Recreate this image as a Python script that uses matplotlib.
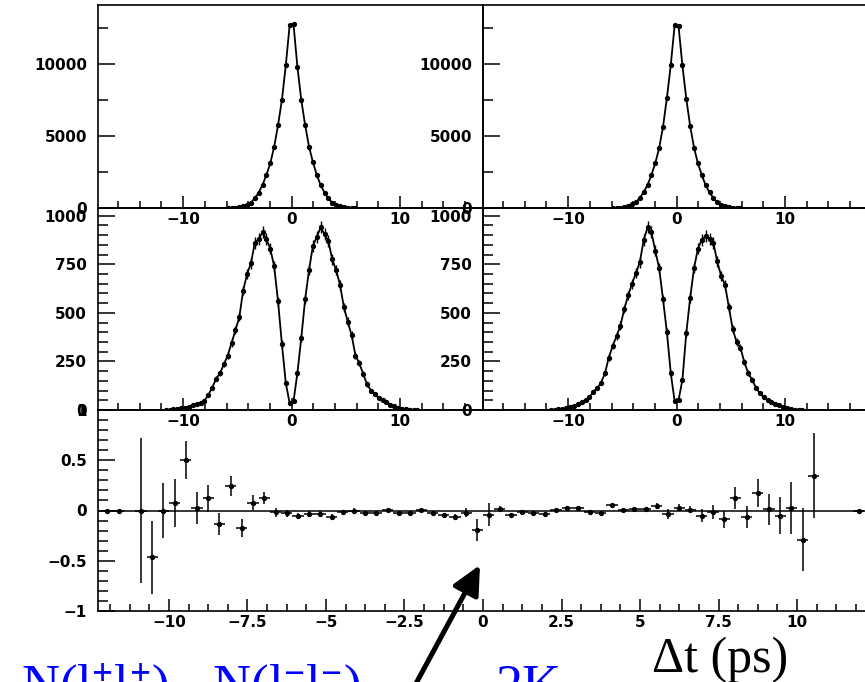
import numpy as np
import matplotlib
matplotlib.use("Agg")
import matplotlib.pyplot as plt
from matplotlib.patches import FancyArrowPatch
from matplotlib.ticker import MultipleLocator, FuncFormatter
from matplotlib.transforms import IdentityTransform

W, H = 865, 682
bin_w = 25 / 70  # ps per bin

# --- Delta t distributions (counts per bin) ---
top_x = (np.arange(-17, 17) + 0.5) * bin_w
top_left = [3, 10, 25, 65, 140, 240, 380, 680, 1070, 1600, 2300, 3100, 4250, 5750, 7500, 9900, 12700,
            12750, 9820, 7500, 5760, 4260, 3200, 2290, 1600, 1065, 670, 370, 230, 140, 60, 22, 8, 2]
top_right = [3, 9, 24, 65, 150, 250, 400, 700, 1100, 1600, 2290, 3120, 4160, 5650, 7640, 9930, 12700,
             12650, 9900, 7600, 5700, 4200, 3100, 2300, 1580, 1080, 690, 390, 240, 140, 60, 24, 9, 3]

mid_x = (np.arange(-33, 33) + 0.5) * bin_w
mid_left = [0, 1, 3, 5, 8, 12, 18, 25, 32, 38, 48, 77, 115, 160, 189, 235, 280, 345, 410, 478,
            615, 700, 755, 860, 880, 915, 880, 830, 740, 560, 340, 140, 35,
            45, 190, 370, 570, 720, 845, 890, 940, 905, 870, 775, 720, 645, 530, 455, 385, 280,
            240, 185, 132, 100, 80, 62, 50, 42, 28, 20, 12, 6, 3, 1, 0, 0]
mid_right = [0, 1, 3, 5, 9, 14, 22, 31, 42, 52, 65, 95, 112, 140, 189, 270, 330, 380, 435, 520,
             590, 650, 705, 760, 875, 940, 915, 820, 730, 570, 400, 190, 45,
             50, 155, 395, 576, 730, 830, 876, 895, 880, 860, 765, 690, 644, 530, 415, 350, 320,
             245, 190, 155, 115, 86, 65, 52, 42, 31, 24, 17, 9, 5, 2, 1, 0]

# --- asymmetry [N(l+l+) - N(l-l-)] / [N(l+l+) + N(l-l-)] ---
nan = np.nan
asym_x = (np.arange(-35, 35) + 0.5) * bin_w
asym = [nan, 0, 0, nan, 0, -0.466, 0, 0.078, 0.50, 0.027, 0.12, -0.13, 0.245, -0.177, 0.078,
        0.12, -0.017, -0.027, -0.058, -0.034, -0.034, -0.06, -0.017, 0.0, -0.02, -0.02, 0.007,
        -0.024, -0.02, 0.003, -0.02, -0.044, -0.06, -0.02, -0.19,
        -0.04, 0.017, -0.04, -0.017, -0.02, -0.034, 0.007, 0.024, 0.027, -0.01, -0.02, 0.05,
        0.007, 0.01, 0.01, 0.04, -0.034, 0.027, 0.007, -0.05, -0.017, -0.085, 0.12, -0.068,
        0.177, 0.01, -0.05, 0.027, -0.29, 0.347, nan, nan, nan, 0, nan]
asym_err = [nan, 0, 0, nan, 0.72, 0.36, 0.27, 0.24, 0.19, 0.16, 0.135, 0.11, 0.10, 0.09, 0.075,
            0.06, 0.045, 0.035, 0.03, 0.025, 0.025, 0.025, 0.02, 0.02, 0.02, 0.02, 0.02,
            0.02, 0.02, 0.02, 0.02, 0.02, 0.025, 0.04, 0.11,
            0.11, 0.03, 0.02, 0.02, 0.02, 0.02, 0.015, 0.015, 0.015, 0.015, 0.015, 0.015,
            0.015, 0.02, 0.02, 0.03, 0.05, 0.035, 0.035, 0.06, 0.07, 0.085, 0.11, 0.11,
            0.14, 0.15, 0.18, 0.26, 0.31, 0.42, nan, nan, nan, 0, nan]

plt.rcParams['font.family'] = 'DejaVu Sans'
plt.rcParams['font.weight'] = 'bold'
plt.rcParams['font.size'] = 11
plt.rcParams['mathtext.fontset'] = 'custom'
plt.rcParams['mathtext.rm'] = 'Liberation Serif'
plt.rcParams['mathtext.it'] = 'Liberation Serif:italic'

fig = plt.figure(figsize=(W / 100, H / 100), dpi=100)


def box(x0, y0, x1, y1):
    # pixel box (from top-left) -> figure axes
    return fig.add_axes([x0 / W, 1 - y1 / H, (x1 - x0) / W, (y1 - y0) / H])


fmt = FuncFormatter(lambda v, p: ('%g' % v).replace('-', '\u2212'))


def style(ax, xmaj, xmin, ymaj, ymin):
    ax.xaxis.set_major_locator(MultipleLocator(xmaj))
    ax.xaxis.set_minor_locator(MultipleLocator(xmin))
    ax.yaxis.set_major_locator(MultipleLocator(ymaj))
    ax.yaxis.set_minor_locator(MultipleLocator(ymin))
    ax.xaxis.set_major_formatter(fmt)
    ax.yaxis.set_major_formatter(fmt)
    ax.tick_params(axis='y', which='major', direction='in', length=12, width=1.1, pad=8)
    ax.tick_params(axis='y', which='minor', direction='in', length=7, width=1.1)
    ax.tick_params(axis='x', which='major', direction='in', length=9, width=1.1, pad=3)
    ax.tick_params(axis='x', which='minor', direction='in', length=5, width=1.1)
    for s in ax.spines.values():
        s.set_linewidth(1.2)
    ax.patch.set_alpha(0)


def hist_panel(ax, x, y, ymax, ymaj, ymin, curve_lim=None):
    y = np.asarray(y, float)
    cx, cy = x, y
    if curve_lim is not None:
        cx = np.concatenate([[-curve_lim], x, [curve_lim]])
        cy = np.concatenate([[0], y, [0]])
    ax.plot(cx, cy, color='k', lw=1.3)
    ax.errorbar(x, y, xerr=bin_w / 2, yerr=np.sqrt(y), fmt='o', ms=2.8, color='k',
                elinewidth=1.0, capsize=0)
    ax.set_xlim(-17.85, 17.65)
    ax.set_ylim(0, ymax)
    style(ax, 10, 2, ymaj, ymin)


ax_tl = box(98, 5, 483, 208)
ax_tr = box(483, 5, 868, 208)
ax_ml = box(98, 208, 483, 410)
ax_mr = box(483, 208, 868, 410)
ax_b = box(98, 410, 868, 611)

hist_panel(ax_tl, top_x, top_left, 14100, 5000, 2500, curve_lim=15.2)
hist_panel(ax_tr, top_x, top_right, 14100, 5000, 2500, curve_lim=15.2)
hist_panel(ax_ml, mid_x, mid_left, 1040, 250, 50)
hist_panel(ax_mr, mid_x, mid_right, 1040, 250, 50)

ax_b.axhline(0, color='k', lw=1.1)
ax_b.errorbar(asym_x, asym, xerr=bin_w / 2, yerr=asym_err, fmt='o', ms=2.8, color='k',
              elinewidth=1.1, capsize=0)
ax_b.set_xlim(-12.26, 12.26)
ax_b.set_ylim(-1, 1)
style(ax_b, 2.5, 0.625, 0.5, 0.1)

# annotations (cut by the lower edge, as in the original slide)
serif = 'Liberation Serif'
fig.text(21 / W, 1 - 702 / H, r'N(l$^{+}$l$^{+}$) - N(l$^{-}$l$^{-}$)', color='#0000ff',
         fontsize=38, family=serif, weight='normal', va='baseline', ha='left')
fig.text(496 / W, 1 - 702 / H, '2K', color='#0000ff', fontsize=39, family=serif,
         weight='normal', va='baseline', ha='left')
fig.text(652 / W, 1 - 672 / H, '\u0394t (ps)', color='k', fontsize=36, family=serif,
         weight='normal', va='baseline', ha='left')

arrow = FancyArrowPatch((406, -20), (480, H - 565), transform=IdentityTransform(),
                        arrowstyle='-|>,head_length=1.75,head_width=0.85', mutation_scale=10,
                        lw=3.6, color='k', shrinkA=0, shrinkB=0)
fig.add_artist(arrow)

fig.savefig('out.png', dpi=100)
